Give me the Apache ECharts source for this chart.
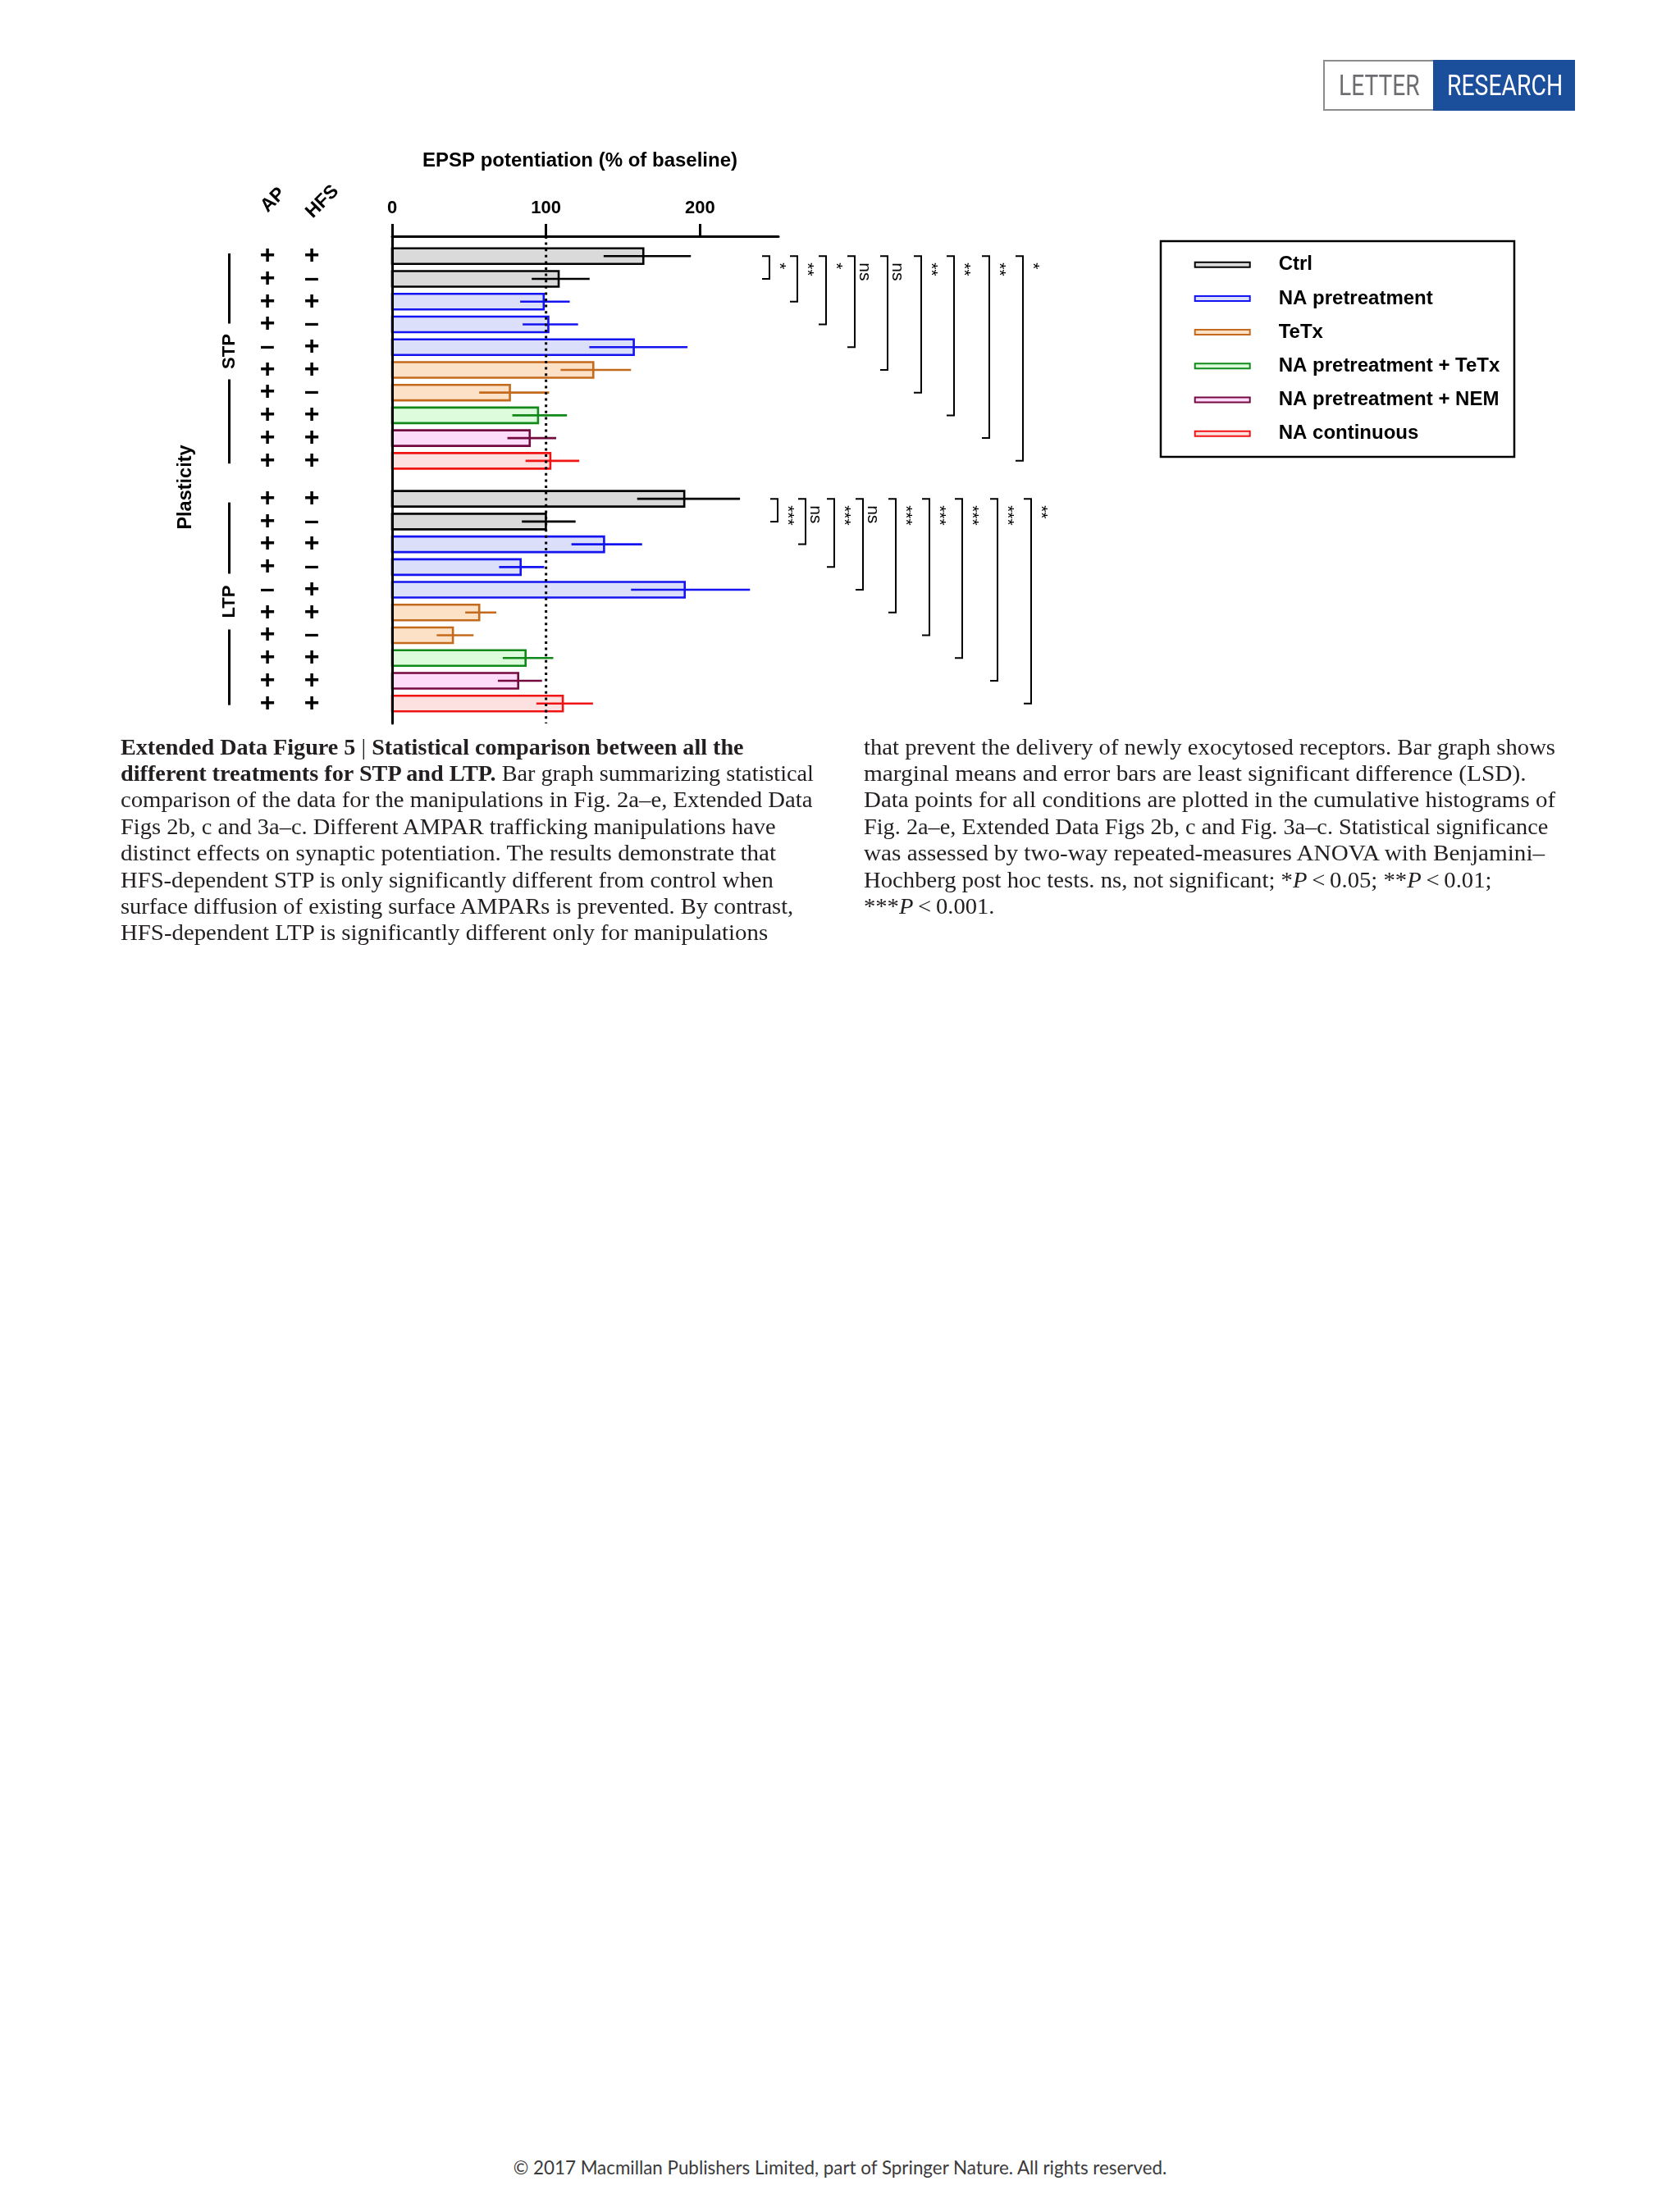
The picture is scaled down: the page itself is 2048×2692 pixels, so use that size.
<!DOCTYPE html>
<html>
<head>
<meta charset="utf-8">
<script src="https://cdn.jsdelivr.net/npm/echarts@6/dist/echarts.min.js"></script>
<style>
  html, body { margin: 0; padding: 0; background: #fff; }
  #page { position: relative; width: 2048px; height: 2692px; overflow: hidden; background: #fff; }
  #chart { position: absolute; left: 0; top: 0; width: 2048px; height: 1000px; }
  .cap { position: absolute; font-family: "Liberation Serif", "Times New Roman", serif; font-size: 27px; line-height: 32.4px; color: #231f20; }
  .cap .ln { white-space: nowrap; width: max-content; height: 32.4px; transform-origin: 0 0; }
  .cap b { font-weight: bold; }
  #hdr { position: absolute; left: 1613px; top: 73px; width: 307px; height: 62px; }
  #hdrBox { position: absolute; left: 0; top: 0; width: 132px; height: 58px; border: 2px solid #8c8c8c; border-right: none; }
  #hdrBlue { position: absolute; left: 134px; top: 0; width: 173px; height: 62px; background: #1b4f9c; }
  .hdrT { position: absolute; top: 14.3px; font-family: Roboto, "Liberation Sans", sans-serif; font-size: 35px; line-height: 35px; white-space: nowrap; transform-origin: 0 0; }
  #foot { position: absolute; left: 0; width: 2048px; top: 2632px; text-align: center; font-family: Lato, "Open Sans", sans-serif; font-size: 22px; line-height: 22px; color: #3a3a3a; }
</style>
</head>
<body>
<div id="page">
  <div id="chart"></div>

  <div id="hdr">
    <div id="hdrBox"></div>
    <div id="hdrBlue"></div>
    <span class="hdrT" id="hdrL" style="left:19px;color:#6d6e71;">LETTER</span>
    <span class="hdrT" id="hdrR" style="left:151px;color:#ffffff;">RESEARCH</span>
  </div>

  <div class="cap" id="capL" style="left:147px;top:894.7px;">
    <div class="ln" data-w="760"><b>Extended Data Figure 5</b> | <b>Statistical comparison between all the</b></div>
    <div class="ln" data-w="845"><b>different treatments for STP and LTP.</b> Bar graph summarizing statistical</div>
    <div class="ln" data-w="844">comparison of the data for the manipulations in Fig. 2a–e, Extended Data</div>
    <div class="ln" data-w="799">Figs 2b, c and 3a–c. Different AMPAR trafficking manipulations have</div>
    <div class="ln" data-w="799">distinct effects on synaptic potentiation. The results demonstrate that</div>
    <div class="ln" data-w="796">HFS-dependent STP is only significantly different from control when</div>
    <div class="ln" data-w="820">surface diffusion of existing surface AMPARs is prevented. By contrast,</div>
    <div class="ln" data-w="789">HFS-dependent LTP is significantly different only for manipulations</div>
  </div>
  <div class="cap" id="capR" style="left:1053px;top:894.7px;">
    <div class="ln" data-w="843">that prevent the delivery of newly exocytosed receptors. Bar graph shows</div>
    <div class="ln" data-w="808">marginal means and error bars are least significant difference (LSD).</div>
    <div class="ln" data-w="843">Data points for all conditions are plotted in the cumulative histograms of</div>
    <div class="ln" data-w="834">Fig. 2a–e, Extended Data Figs 2b, c and Fig. 3a–c. Statistical significance</div>
    <div class="ln" data-w="830">was assessed by two-way repeated-measures ANOVA with Benjamini–</div>
    <div class="ln" data-w="766">Hochberg post hoc tests. ns, not significant; *<i>P</i>&thinsp;&lt;&thinsp;0.05; **<i>P</i>&thinsp;&lt;&thinsp;0.01;</div>
    <div class="ln" data-w="160">***<i>P</i>&thinsp;&lt;&thinsp;0.001.</div>
  </div>

  <div id="foot"><span id="footT">© 2017 Macmillan Publishers Limited, part of Springer Nature. All rights reserved.</span></div>
</div>

<script>
// ================= DATA =================
const treatments = ['Ctrl', 'NA pretreatment', 'TeTx', 'NA pretreatment + TeTx', 'NA pretreatment + NEM', 'NA continuous'];
const groups = ['STP', 'LTP'];
const rowTreatment = [0, 0, 1, 1, 1, 2, 2, 3, 4, 5];
const rowAP  = ['+', '+', '+', '+', '–', '+', '+', '+', '+', '+'];
const rowHFS = ['+', '–', '+', '–', '+', '+', '–', '+', '+', '+'];

const stpMean = [163.2, 108.2, 98.5, 101.5, 157.0, 130.7, 76.5, 94.8, 89.4, 102.8];
const stpLow  = [137.4, 90.7, 83.2, 84.8, 128.1, 109.5, 56.6, 78.1, 74.9, 86.7];
const stpHigh = [194.1, 128.3, 115.4, 120.8, 191.9, 155.2, 102.0, 113.6, 106.6, 121.6];

const ltpMean = [189.8, 99.9, 137.7, 83.5, 190.1, 56.6, 39.5, 86.7, 81.9, 110.9];
const ltpLow  = [159.2, 84.3, 116.5, 69.5, 155.2, 47.5, 29.0, 71.9, 68.7, 93.7];
const ltpHigh = [226.0, 119.2, 162.4, 98.8, 232.5, 67.7, 52.9, 104.7, 97.4, 130.5];

const stpSig = ['*', '**', '*', 'ns', 'ns', '**', '**', '**', '*'];
const ltpSig = ['***', 'ns', '***', 'ns', '***', '***', '***', '***', '**'];

const xTickValues = [0, 100, 200];
const referenceLevel = 100;
const xAxisTitle = 'EPSP potentiation (% of baseline)';

// ================= STYLE / LAYOUT =================
const strokeColors = ['#000000', '#1414f0', '#c46a1c', '#128a1a', '#740a40', '#f01414'];
const fillColors   = ['#dadada', '#dcdff9', '#fde1c6', '#dcfcdc', '#fcdcf8', '#fde0e0'];
const SANS = '"Liberation Sans", Arial, Helvetica, sans-serif';
const X_MAX = 251;
const GROUP_GAP = 0.67;
const Y_PAD = 0.877;
const BAR_H = 0.685;
const AP_X = 326, HFS_X = 380;
const GROUP_LINE_X = 279.5;
const GROUP_LABEL_CENTER = [4.19, 4.52];
const GROUP_LINE_ENDS = [[-0.12, 9.12], [0.16, 9.07]];
const BRACKET_X = [
  [938, 972, 1007, 1042, 1082, 1123, 1163, 1206, 1247],
  [948, 982, 1017, 1052, 1092, 1133, 1173, 1216, 1257]
];

function rowPos(g, i) { return g * (10 + GROUP_GAP) + i; }
const Y_MIN = -Y_PAD;
const Y_MAX = rowPos(1, 9) + Y_PAD;

const means = [stpMean, ltpMean], lows = [stpLow, ltpLow], highs = [stpHigh, ltpHigh];
const sigs = [stpSig, ltpSig];

// ================= SERIES =================
const series = [];

treatments.forEach((name, t) => {
  const data = [];
  for (let g = 0; g < 2; g++) {
    for (let i = 0; i < 10; i++) {
      if (rowTreatment[i] === t) data.push([rowPos(g, i), means[g][i], lows[g][i], highs[g][i]]);
    }
  }
  series.push({
    type: 'custom', name: name, clip: false, z: 2,
    encode: { x: 1, y: 0 },
    itemStyle: { color: fillColors[t], borderColor: strokeColors[t], borderWidth: 2 },
    data: data,
    renderItem: function (params, api) {
      const pos = api.value(0), m = api.value(1), lo = api.value(2), hi = api.value(3);
      const p0 = api.coord([0, pos]);
      const pm = api.coord([m, pos]);
      const pl = api.coord([lo, pos]);
      const ph = api.coord([hi, pos]);
      const h = api.size([0, BAR_H])[1];
      return {
        type: 'group',
        children: [
          { type: 'rect', shape: { x: p0[0], y: p0[1] - h / 2, width: pm[0] - p0[0], height: h },
            style: { fill: fillColors[t], stroke: strokeColors[t], lineWidth: 2.6 } },
          { type: 'line', shape: { x1: pl[0], y1: p0[1], x2: ph[0], y2: p0[1] },
            style: { stroke: strokeColors[t], lineWidth: 2.6, fill: 'none' } }
        ]
      };
    }
  });
});

// dotted reference line at 100 %
series.push({
  type: 'custom', name: 'ref', clip: false, z: 4, silent: true,
  encode: { x: 0, y: 1 },
  data: [[referenceLevel, 0]],
  renderItem: function (params, api) {
    const a = api.coord([api.value(0), Y_MIN]);
    const b = api.coord([api.value(0), Y_MAX]);
    return { type: 'line', shape: { x1: a[0], y1: a[1], x2: b[0], y2: b[1] },
      style: { stroke: '#000', lineWidth: 3, lineDash: [3, 4.6], fill: 'none' } };
  }
});

// AP / HFS sign columns
const signData = [];
for (let g = 0; g < 2; g++) for (let i = 0; i < 10; i++) signData.push([0, rowPos(g, i)]);
series.push({
  type: 'custom', name: 'signs', clip: false, silent: true,
  encode: { x: 0, y: 1 },
  data: signData,
  renderItem: function (params, api) {
    const i = params.dataIndex % 10;
    const y = api.coord([0, api.value(1)])[1];
    const st = (s) => ({ text: s, fill: '#000', fontSize: 32, fontWeight: 'bold', fontFamily: SANS, align: 'center', verticalAlign: 'middle' });
    return { type: 'group', children: [
      { type: 'text', x: AP_X, y: y, style: st(rowAP[i]) },
      { type: 'text', x: HFS_X, y: y, style: st(rowHFS[i]) }
    ] };
  }
});

// STP / LTP group markers
series.push({
  type: 'custom', name: 'groups', clip: false, silent: true,
  encode: { x: 0, y: 1 },
  data: [[0, rowPos(0, 0)], [0, rowPos(1, 0)]],
  renderItem: function (params, api) {
    const g = params.dataIndex;
    const yc = (v) => api.coord([0, v])[1];
    const top = yc(rowPos(g, 0) + GROUP_LINE_ENDS[g][0]);
    const bot = yc(rowPos(g, 0) + GROUP_LINE_ENDS[g][1]);
    const mid = yc(rowPos(g, 0) + GROUP_LABEL_CENTER[g]);
    const half = 34;
    return { type: 'group', children: [
      { type: 'line', shape: { x1: GROUP_LINE_X, y1: top, x2: GROUP_LINE_X, y2: mid - half }, style: { stroke: '#000', lineWidth: 3 } },
      { type: 'line', shape: { x1: GROUP_LINE_X, y1: mid + half, x2: GROUP_LINE_X, y2: bot }, style: { stroke: '#000', lineWidth: 3 } },
      { type: 'text', x: GROUP_LINE_X, y: mid, rotation: Math.PI / 2,
        style: { text: groups[g], fill: '#000', fontSize: 22, fontWeight: 'bold', fontFamily: SANS, align: 'center', verticalAlign: 'middle' } }
    ] };
  }
});

// significance brackets
const sigData = [];
for (let g = 0; g < 2; g++) for (let k = 0; k < 9; k++) sigData.push([0, rowPos(g, k + 1)]);
series.push({
  type: 'custom', name: 'sig', clip: false, silent: true,
  encode: { x: 0, y: 1 },
  data: sigData,
  renderItem: function (params, api) {
    const g = Math.floor(params.dataIndex / 9), k = params.dataIndex % 9;
    const yTop = api.coord([0, rowPos(g, 0)])[1];
    const yBot = api.coord([0, api.value(1)])[1];
    const bx = BRACKET_X[g][k];
    return { type: 'group', children: [
      { type: 'polyline', shape: { points: [[bx - 9, yTop], [bx, yTop], [bx, yBot], [bx - 9, yBot]] },
        style: { stroke: '#000', lineWidth: 2, fill: 'none' } },
      { type: 'text', x: bx + 12, y: yTop + 8, rotation: -Math.PI / 2,
        style: { text: sigs[g][k], fill: '#000', fontSize: 21, fontFamily: SANS, align: 'left', verticalAlign: 'middle' } }
    ] };
  }
});

// ================= OPTION =================
const option = {
  animation: false,
  backgroundColor: '#fff',
  grid: { left: 478, top: 288, width: X_MAX * 1.8765, height: 594, containLabel: false },
  xAxis: {
    type: 'value', position: 'top', min: 0, max: X_MAX, z: 10,
    axisLine: { show: true, onZero: false, lineStyle: { color: '#000', width: 3 } },
    axisTick: { show: true, length: 15, customValues: xTickValues, lineStyle: { color: '#000', width: 3 } },
    axisLabel: { show: true, customValues: xTickValues, margin: 23, color: '#000', fontSize: 22, fontWeight: 'bold', fontFamily: SANS },
    splitLine: { show: false }
  },
  yAxis: {
    type: 'value', inverse: true, min: Y_MIN, max: Y_MAX, z: 10,
    axisLine: { show: true, onZero: false, lineStyle: { color: '#000', width: 3 } },
    axisTick: { show: false }, axisLabel: { show: false }, splitLine: { show: false }
  },
  legend: {
    orient: 'vertical', left: 1455.7, top: 310.7, padding: 0, selectedMode: false,
    icon: 'rect', itemWidth: 67, itemHeight: 6, itemGap: 17.2,
    textStyle: { color: '#000', fontSize: 24, fontWeight: 'bold', fontFamily: SANS, lineHeight: 24, padding: [0, 0, 0, 30] },
    data: treatments.map((n, t) => ({ name: n, itemStyle: { color: fillColors[t], borderColor: strokeColors[t], borderWidth: 2 } }))
  },
  graphic: [
    { type: 'rect', shape: { x: 1415, y: 294, width: 431, height: 263 }, style: { fill: 'none', stroke: '#000', lineWidth: 2.5 }, silent: true },
    { type: 'text', x: 707, y: 196, style: { text: xAxisTitle, fill: '#000', fontSize: 24, fontWeight: 'bold', fontFamily: SANS, align: 'center', verticalAlign: 'middle' } },
    { type: 'text', x: 227, y: 594, rotation: Math.PI / 2, style: { text: 'Plasticity', fill: '#000', fontSize: 23.5, fontWeight: 'bold', fontFamily: SANS, align: 'center', verticalAlign: 'middle' } },
    { type: 'text', x: 333, y: 244, rotation: Math.PI / 4, style: { text: 'AP', fill: '#000', fontSize: 23, fontWeight: 'bold', fontFamily: SANS, align: 'center', verticalAlign: 'middle' } },
    { type: 'text', x: 393, y: 246, rotation: Math.PI / 4, style: { text: 'HFS', fill: '#000', fontSize: 23, fontWeight: 'bold', fontFamily: SANS, align: 'center', verticalAlign: 'middle' } }
  ],
  series: series
};

const chart = echarts.init(document.getElementById('chart'), null, { renderer: 'canvas' });
chart.setOption(option);

// ================= TEXT FITTING =================
(function fit() {
  document.querySelectorAll('.cap .ln').forEach(el => {
    const w = parseFloat(el.dataset.w);
    el.style.transform = 'scaleX(' + (w / el.offsetWidth) + ')';
  });
  const hl = document.getElementById('hdrL');
  hl.style.transform = 'scaleX(' + (99 / hl.offsetWidth) + ')';
  const hr = document.getElementById('hdrR');
  hr.style.transform = 'scaleX(' + (141 / hr.offsetWidth) + ')';
  const ft = document.getElementById('footT');
  const fs = 22 * 797 / ft.offsetWidth;
  document.getElementById('foot').style.fontSize = fs + 'px';
})();
</script>
</body>
</html>
